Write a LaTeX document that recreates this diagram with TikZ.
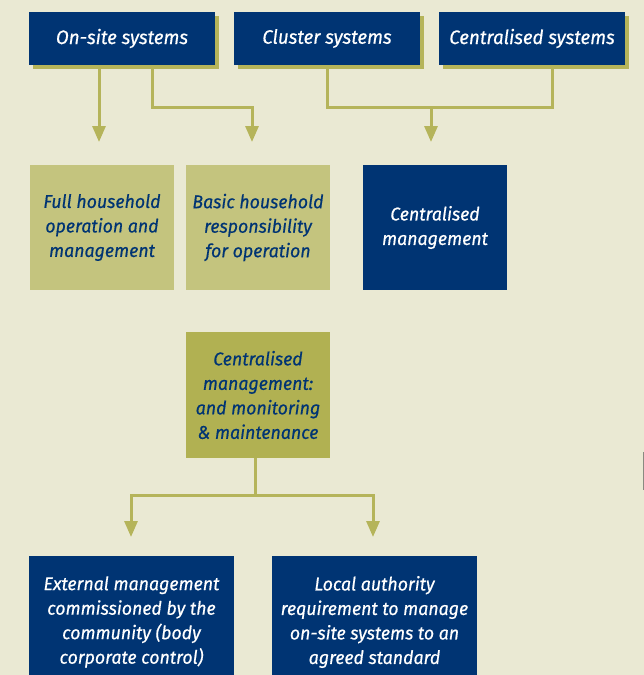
\documentclass[tikz,border=0pt]{standalone}
\usepackage{fontspec}
\setmainfont{Fira Sans}[FakeStretch=0.96, ItalicFeatures={FakeBold=0.5}]
\usetikzlibrary{arrows.meta,shadows}
\definecolor{bg}{HTML}{EAE9D3}
\definecolor{navy}{HTML}{003473}
\definecolor{olivelt}{HTML}{C4C47E}
\definecolor{olivedk}{HTML}{B1B152}
\definecolor{linec}{HTML}{B5B45A}
\definecolor{markc}{HTML}{8A8A80}
\tikzset{
  box/.style={inner sep=0pt, align=center, font=\itshape\fontsize{18.5}{24.5}\selectfont},
  navybox/.style={box, fill=navy, text=white},
  topbox/.style={navybox, minimum width=186pt, minimum height=53pt,
    font=\itshape\fontsize{19.5}{24.5}\selectfont,
    drop shadow={shadow xshift=4pt, shadow yshift=-4pt, fill=linec, opacity=1}},
  midbox/.style={box, minimum width=144pt, minimum height=125pt},
  lightbox/.style={midbox, fill=olivelt, text=navy},
  darkbox/.style={midbox, fill=olivedk, text=navy},
  botbox/.style={navybox, minimum width=205pt, minimum height=132pt},
  conn/.style={draw=linec, line width=3pt, line join=miter},
  arr/.style={conn, -{Triangle[width=13pt,length=16pt]}},
}
\begin{document}
\begin{tikzpicture}[x=1pt,y=-1pt]
\useasboundingbox (0,0) rectangle (644,675);
\clip (0,0) rectangle (644,675);
\fill[bg] (0,0) rectangle (644,675);

% top row
\node[topbox] (onsite) at (122,38.5) {On-site systems};
\node[topbox] (cluster) at (327,38.5) {Cluster systems};
\node[topbox] (censys) at (532,38.5) {Centralised systems};

% middle row
\node[lightbox] (full) at (102,227.5) {Full household\\operation and\\management};
\node[lightbox] (basic) at (258,227.5) {Basic household\\responsibility\\for operation};
\node[navybox, midbox] (cmgmt) at (435,227.5) {Centralised\\management};

% monitoring box
\node[darkbox, minimum height=126pt] (cmm) at (258,395) {Centralised\\management:\\and monitoring\\\& maintenance};

% bottom row
\node[botbox] (ext) at (131.5,622) {External management\\commissioned by the\\community (body\\corporate control)};
\node[botbox] (local) at (374.5,622) {Local authority\\requirement to manage\\on-site systems to an\\agreed standard};

% connector coordinates
\coordinate (tip1) at (99,142);
\coordinate (j2) at (152,107);
\coordinate (tip2) at (252,142);
\coordinate (j3) at (327,107);
\coordinate (j4) at (552,107);
\coordinate (tip3) at (431,142);
\coordinate (j5) at (255,495);
\coordinate (tip4) at (131,537);
\coordinate (tip5) at (373,537);

% connectors
\draw[arr] (tip1 |- onsite.south) -- (tip1);
\draw[arr] (j2 |- onsite.south) -- (j2) -| (tip2);
\draw[conn] (j3 |- cluster.south) -- (j3) -- (j4) -- (j4 |- censys.south);
\draw[arr] (tip3 |- j3) -- (tip3);
\draw[conn] (j5 |- cmm.south) -- (j5);
\draw[arr] (j5) -| (tip4);
\draw[arr] (j5) -| (tip5);

% small mark at right edge
\draw[markc, line width=1.5pt] (643.5,452) -- (643.5,490);
\end{tikzpicture}
\end{document}
